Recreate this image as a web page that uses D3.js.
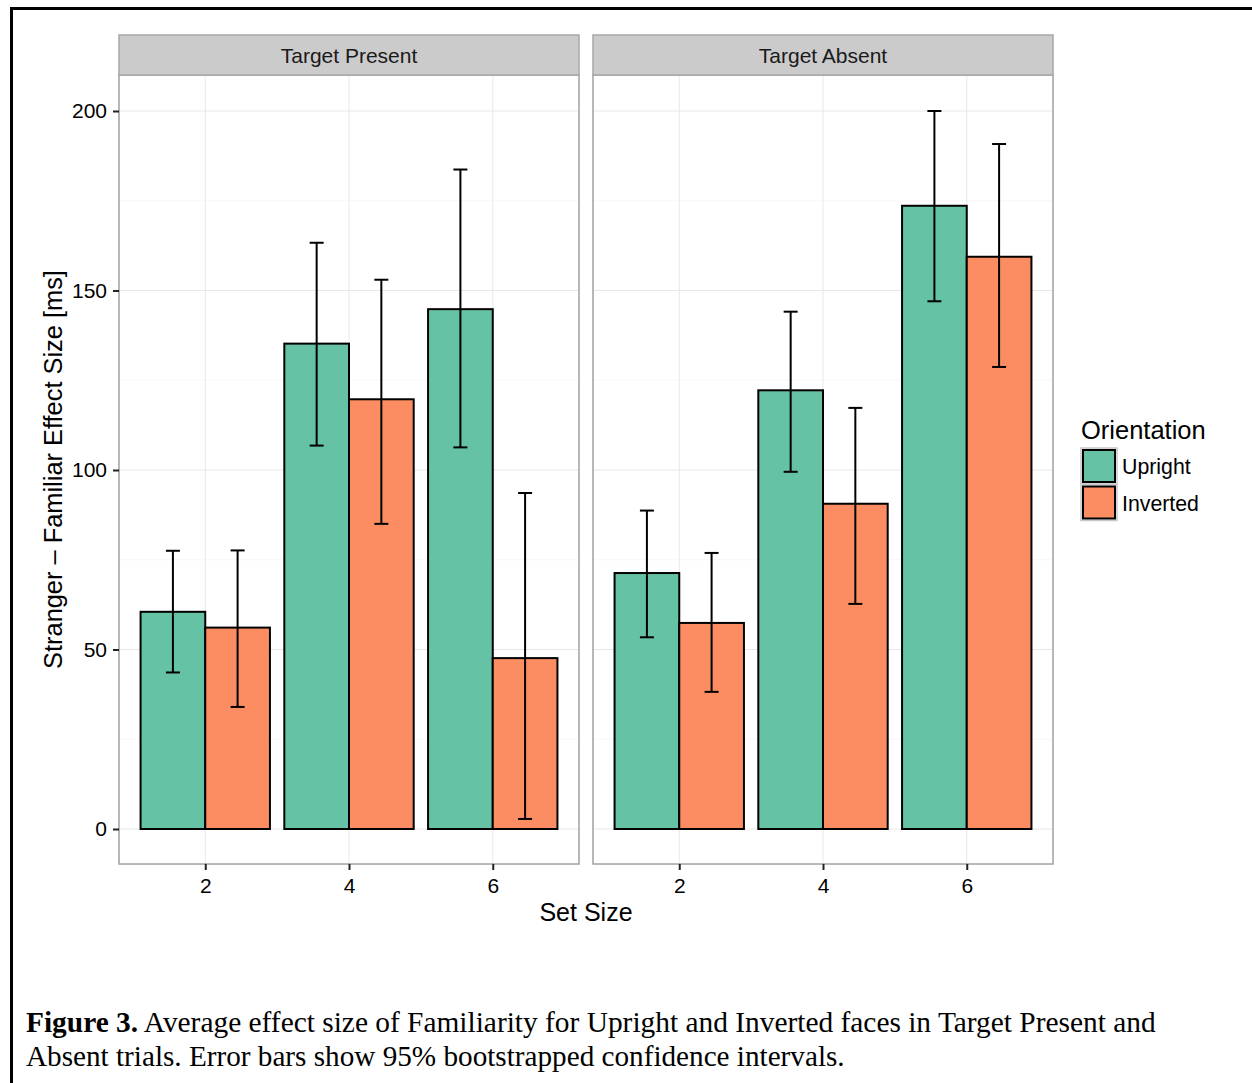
<!DOCTYPE html>
<html>
<head>
<meta charset="utf-8">
<script src="https://cdn.jsdelivr.net/npm/d3@7"></script>
<style>
  body { margin: 0; background: #fff; }
  svg { display: block; }
</style>
</head>
<body>
<svg id="chart" width="1252" height="1083"></svg>
<script>
// ---- Data ----
const panels = ["Target Present", "Target Absent"];
const setSizes = ["2", "4", "6"];
const orientations = ["Upright", "Inverted"];
const presentUpright = [60.5, 135.2, 144.8];
const presentUprightLo = [43.6, 106.8, 106.3];
const presentUprightHi = [77.5, 163.3, 183.7];
const presentInverted = [56.1, 119.7, 47.6];
const presentInvertedLo = [34.0, 85.0, 2.8];
const presentInvertedHi = [77.6, 153.0, 93.6];
const absentUpright = [71.3, 122.2, 173.6];
const absentUprightLo = [53.4, 99.5, 147.0];
const absentUprightHi = [88.7, 144.1, 200.0];
const absentInverted = [57.4, 90.6, 159.4];
const absentInvertedLo = [38.2, 62.7, 128.7];
const absentInvertedHi = [76.9, 117.3, 190.8];
const yTicks = [0, 50, 100, 150, 200];
const yMinor = [25, 75, 125, 175];
const colors = ["#66c2a5", "#fc8d62"];

const seriesByPanel = [
  [
    {mean: presentUpright, lo: presentUprightLo, hi: presentUprightHi},
    {mean: presentInverted, lo: presentInvertedLo, hi: presentInvertedHi}
  ],
  [
    {mean: absentUpright, lo: absentUprightLo, hi: absentUprightHi},
    {mean: absentInverted, lo: absentInvertedLo, hi: absentInvertedHi}
  ]
];

const svg = d3.select("#chart");
const font = "'Liberation Sans', Arial, Helvetica, sans-serif";

// Frame lines
svg.append("line").attr("x1", 10).attr("x2", 1252).attr("y1", 8.5).attr("y2", 8.5)
  .attr("stroke", "#000").attr("stroke-width", 3);
svg.append("line").attr("x1", 11.5).attr("x2", 11.5).attr("y1", 7).attr("y2", 1083)
  .attr("stroke", "#000").attr("stroke-width", 3);

// Layout
const panelX = [119, 593];
const panelW = 460;
const stripTop = 35, stripH = 40;
const plotTop = 75, plotBottom = 864;

const y = d3.scaleLinear().domain([0, 200]).range([829, 111]);
const xc = d3.scaleLinear().domain([0.4, 3.6]).range([0, panelW]);
const dodge = d3.scaleBand().domain(orientations).range([-0.45, 0.45]);

panels.forEach((pname, pi) => {
  const g = svg.append("g").attr("transform", `translate(${panelX[pi]},0)`);

  g.append("rect").attr("x", 0).attr("y", plotTop).attr("width", panelW).attr("height", plotBottom - plotTop)
    .attr("fill", "#fff");

  yMinor.forEach(v => {
    g.append("line").attr("x1", 0).attr("x2", panelW).attr("y1", y(v)).attr("y2", y(v))
      .attr("stroke", "#f7f7f7").attr("stroke-width", 1);
  });
  yTicks.forEach(v => {
    g.append("line").attr("x1", 0).attr("x2", panelW).attr("y1", y(v)).attr("y2", y(v))
      .attr("stroke", "#e8e8e8").attr("stroke-width", 1);
  });
  setSizes.forEach((s, i) => {
    g.append("line").attr("x1", xc(i + 1)).attr("x2", xc(i + 1)).attr("y1", plotTop).attr("y2", plotBottom)
      .attr("stroke", "#e8e8e8").attr("stroke-width", 1);
  });

  seriesByPanel[pi].forEach((ser, si) => {
    const o = orientations[si];
    setSizes.forEach((s, i) => {
      const x0 = xc(i + 1 + dodge(o));
      const x1 = xc(i + 1 + dodge(o) + dodge.bandwidth());
      g.append("rect")
        .attr("x", x0).attr("y", y(ser.mean[i]))
        .attr("width", x1 - x0).attr("height", y(0) - y(ser.mean[i]))
        .attr("fill", colors[si]).attr("stroke", "#000").attr("stroke-width", 2);
    });
  });
  seriesByPanel[pi].forEach((ser, si) => {
    const o = orientations[si];
    setSizes.forEach((s, i) => {
      const cx = xc(i + 1 + dodge(o) + dodge.bandwidth() / 2);
      const hw = 7;
      const eg = g.append("g").attr("stroke", "#000").attr("stroke-width", 2);
      eg.append("line").attr("x1", cx).attr("x2", cx).attr("y1", y(ser.hi[i])).attr("y2", y(ser.lo[i]));
      eg.append("line").attr("x1", cx - hw).attr("x2", cx + hw).attr("y1", y(ser.hi[i])).attr("y2", y(ser.hi[i]));
      eg.append("line").attr("x1", cx - hw).attr("x2", cx + hw).attr("y1", y(ser.lo[i])).attr("y2", y(ser.lo[i]));
    });
  });

  g.append("rect").attr("x", 0).attr("y", plotTop).attr("width", panelW).attr("height", plotBottom - plotTop)
    .attr("fill", "none").attr("stroke", "#a0a0a0").attr("stroke-width", 1.5);

  g.append("rect").attr("x", 0).attr("y", stripTop).attr("width", panelW).attr("height", stripH)
    .attr("fill", "#cbcbcb").attr("stroke", "#a8a8a8").attr("stroke-width", 1.5);
  g.append("text").attr("x", panelW / 2).attr("y", stripTop + stripH / 2 + 7.5)
    .attr("text-anchor", "middle").attr("font-family", font).attr("font-size", 21)
    .attr("fill", "#1a1a1a").text(pname);

  const xAxis = d3.axisBottom(d3.scalePoint().domain(setSizes).range([xc(1), xc(3)]))
    .tickSize(6).tickPadding(8);
  const ax = g.append("g").attr("transform", `translate(0,${plotBottom})`).call(xAxis);
  ax.select(".domain").remove();
  ax.selectAll(".tick line").attr("stroke", "#222").attr("stroke-width", 2);
  ax.selectAll(".tick text").attr("font-family", font).attr("font-size", 21).attr("fill", "#000");
});

const yAxis = d3.axisLeft(y).tickValues(yTicks).tickSize(6).tickPadding(6);
const ay = svg.append("g").attr("transform", `translate(${panelX[0]},0)`).call(yAxis);
ay.select(".domain").remove();
ay.selectAll(".tick line").attr("stroke", "#222").attr("stroke-width", 2);
ay.selectAll(".tick text").attr("font-family", font).attr("font-size", 21).attr("fill", "#000");

svg.append("text").attr("x", (panelX[0] + panelX[1] + panelW) / 2).attr("y", 921)
  .attr("text-anchor", "middle").attr("font-family", font).attr("font-size", 25).text("Set Size");
svg.append("text").attr("transform", `translate(62,${(plotTop + plotBottom) / 2}) rotate(-90)`)
  .attr("text-anchor", "middle").attr("font-family", font).attr("font-size", 25.4)
  .text("Stranger \u2013 Familiar Effect Size [ms]");

const lg = svg.append("g").attr("transform", "translate(1081,0)");
lg.append("text").attr("x", 0).attr("y", 439).attr("font-family", font).attr("font-size", 25.5).text("Orientation");
orientations.forEach((o, i) => {
  const ky = 448 + i * 36.5;
  lg.append("rect").attr("x", 0).attr("y", ky).attr("width", 36).attr("height", 36)
    .attr("fill", "none").attr("stroke", "#c8c8c8").attr("stroke-width", 1.5);
  lg.append("rect").attr("x", 2).attr("y", ky + 2).attr("width", 32).attr("height", 32)
    .attr("fill", colors[i]).attr("stroke", "#000").attr("stroke-width", 2);
  lg.append("text").attr("x", 41).attr("y", ky + 26).attr("font-family", font).attr("font-size", 21.3).text(o);
});

const serif = "'Liberation Serif', 'Times New Roman', Times, serif";
const cap1 = svg.append("text").attr("x", 26).attr("y", 1032).attr("font-family", serif).attr("font-size", 29.4);
cap1.append("tspan").attr("font-weight", "bold").text("Figure 3.");
cap1.append("tspan").text(" Average effect size of Familiarity for Upright and Inverted faces in Target Present and");
svg.append("text").attr("x", 26).attr("y", 1066).attr("font-family", serif).attr("font-size", 29.2)
  .text("Absent trials. Error bars show 95% bootstrapped confidence intervals.");
</script>
</body>
</html>
